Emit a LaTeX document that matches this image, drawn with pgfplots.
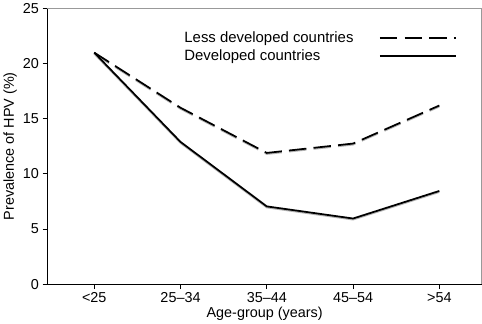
\documentclass[border=0pt]{standalone}
\usepackage{fontspec}
\setmainfont{Liberation Sans}
\usepackage{pgfplots}
\pgfplotsset{compat=1.18}
\begin{document}
\begin{tikzpicture}
\begin{axis}[
  scale only axis, width=422pt, height=268pt,
  xmin=-0.54, xmax=4.49, ymin=0, ymax=25,
  xtick={0,1,2,3,4},
  xticklabels={<25,25--34,35--44,45--54,>54},
  ytick={0,5,10,15,20,25},
  tick pos=left, tick align=outside,
  major tick length=5pt,
  tick style={black, line width=0.8pt},
  axis line style={gray!80, line width=0.8pt},
  /pgf/number format/assume math mode=true,
  ticklabel style={font=\fontsize{14}{16}\selectfont},
  label style={font=\fontsize{14}{16}\selectfont},
  xlabel={Age-group (years)},
  ylabel={Prevalence of HPV (\%)},
  xlabel style={yshift=3pt},
  ylabel style={yshift=-1pt},
  legend style={draw=none, fill=none, at={(0.31,0.925)}, anchor=north west,
    font=\fontsize{14.5}{16}\selectfont, row sep=2pt, inner sep=0pt},
  legend cell align=left,
  legend plot pos=right,
  legend image code/.code={\path (0cm,0cm); \draw[#1, line width=2pt] (0.8cm,0cm) -- (3.4cm,0cm);},
  clip=false,
]
\addplot[gray!60, line width=1.8pt, dash pattern=on 17pt off 7pt, yshift=-1pt, forget plot] coordinates {(0,21) (1,16) (2,11.9) (3,12.75) (4,16.2)};
\addplot[gray!60, line width=1.8pt, yshift=-1pt, forget plot] coordinates {(0,21) (1,12.9) (2,7.05) (3,5.95) (4,8.45)};
\addplot[black, line width=1.7pt, dash pattern=on 17pt off 7pt] coordinates {(0,21) (1,16) (2,11.9) (3,12.75) (4,16.2)};
\addlegendentry{Less developed countries}
\addplot[black, line width=1.7pt] coordinates {(0,21) (1,12.9) (2,7.05) (3,5.95) (4,8.45)};
\addlegendentry{Developed countries}
\draw[black, line width=0.8pt] (rel axis cs:0,1) -- (rel axis cs:0,0) -- (rel axis cs:1,0);
\end{axis}
\end{tikzpicture}
\end{document}
